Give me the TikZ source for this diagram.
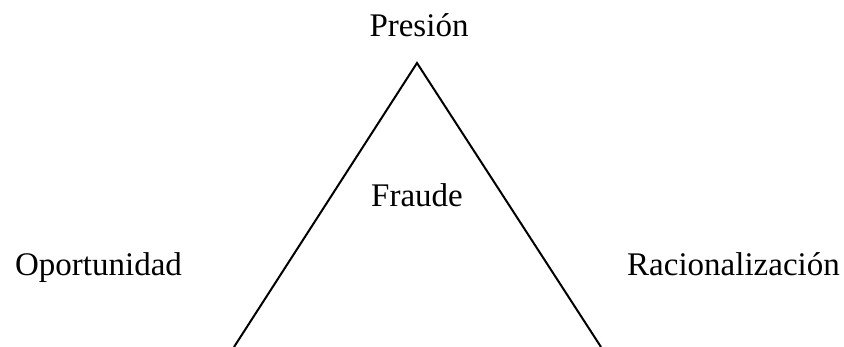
\documentclass[tikz,border=0pt]{standalone}
\usepackage{fontspec}
\setmainfont{Liberation Serif}
\begin{document}
\begin{tikzpicture}[x=1pt,y=-1pt,
  lbl/.style={anchor=base,inner sep=0pt,font=\fontsize{33}{39}\selectfont},
  edge/.style={line width=2pt,line join=miter}]
\useasboundingbox (0,0) rectangle (844,346);
\coordinate (apex) at (417,63);
\coordinate (bl) at (234,347);
\coordinate (br) at (601,347);
\draw[edge] (bl) -- (apex) -- (br);
\node[lbl] (pres) at (419,36) {Presión};
\node[lbl] (fraude) at (417,206) {Fraude};
\node[lbl] (opor) at (98.5,275) {Oportunidad};
\node[lbl] (rac) at (733.5,275) {Racionalización};
\end{tikzpicture}
\end{document}
